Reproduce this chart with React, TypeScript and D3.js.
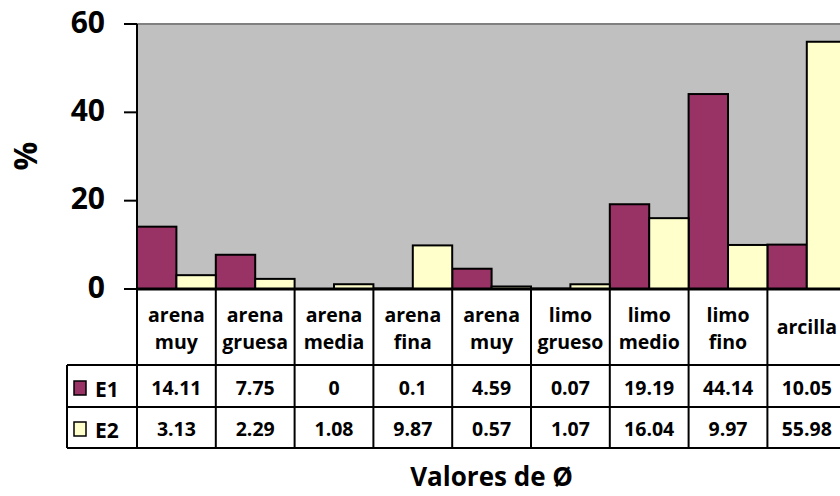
import React from "react";
import * as d3 from "d3";

const categories: string[][] = [
  ["arena", "muy"],
  ["arena", "gruesa"],
  ["arena", "media"],
  ["arena", "fina"],
  ["arena", "muy"],
  ["limo", "grueso"],
  ["limo", "medio"],
  ["limo", "fino"],
  ["arcilla"],
];
const e1Values = [14.11, 7.75, 0, 0.1, 4.59, 0.07, 19.19, 44.14, 10.05];
const e2Values = [3.13, 2.29, 1.08, 9.87, 0.57, 1.07, 16.04, 9.97, 55.98];
const seriesNames = ["E1", "E2"];
const seriesColors = ["#993366", "#FFFFCC"];
const yTicks = [0, 20, 40, 60];

const W = 840;
const H = 496;
const FONT = "'Open Sans', 'Noto Sans', sans-serif";

export default function App() {
  const left = 137;
  const top = 24;
  const bottom = 289;
  const catW = 78.8;
  const right = left + catW * categories.length;

  const x = d3
    .scaleBand<number>()
    .domain(categories.map((_, i) => i))
    .range([left, right])
    .paddingInner(0)
    .paddingOuter(0);
  const xs = d3.scaleBand<number>().domain([0, 1]).range([0, x.bandwidth()]);
  const y = d3.scaleLinear().domain([0, 60]).range([bottom, top]);

  const series = [e1Values, e2Values];
  const rowE1 = [365, 407];
  const rowE2 = [407, 448];
  const tableLeft = 67;

  return (
    <svg
      width={W}
      height={H}
      style={{ position: "absolute", left: 0, top: 0, background: "#fff" }}
      fontFamily={FONT}
      fontWeight={700}
    >
      {/* plot area */}
      <rect x={left} y={top} width={right - left} height={bottom - top} fill="#C0C0C0" />
      <line x1={left} x2={right} y1={top} y2={top} stroke="#808080" strokeWidth={2} />

      {/* bars */}
      {series.map((vals, s) =>
        vals.map((v, i) => (
          <rect
            key={`b${s}-${i}`}
            x={(x(i) as number) + (xs(s) as number)}
            y={y(v)}
            width={xs.bandwidth()}
            height={bottom - y(v)}
            fill={seriesColors[s]}
            stroke="#000"
            strokeWidth={2}
          />
        ))
      )}

      {/* y axis */}
      <line x1={left} x2={left} y1={top} y2={bottom} stroke="#000" strokeWidth={2} />
      {yTicks.map((t) => (
        <g key={`t${t}`}>
          <line x1={124} x2={left} y1={y(t)} y2={y(t)} stroke="#000" strokeWidth={2} />
          <text x={105} y={y(t) + 8.5} textAnchor="end" fontSize={30} fill="#000">
            {t}
          </text>
        </g>
      ))}
      <text
        transform={`translate(37,156) rotate(-90)`}
        textAnchor="middle"
        fontSize={32}
        fill="#000"
      >
        %
      </text>

      {/* data table */}
      <g stroke="#000" strokeWidth={2}>
        <line x1={left} x2={right} y1={bottom} y2={bottom} strokeWidth={3} />
        <line x1={tableLeft} x2={right} y1={rowE1[0]} y2={rowE1[0]} />
        <line x1={tableLeft} x2={right} y1={rowE2[0]} y2={rowE2[0]} />
        <line x1={tableLeft} x2={right} y1={rowE2[1]} y2={rowE2[1]} />
        <line x1={tableLeft} x2={tableLeft} y1={rowE1[0]} y2={rowE2[1]} />
        {categories.map((_, i) => (
          <line key={`v${i}`} x1={x(i)} x2={x(i)} y1={bottom} y2={rowE2[1]} />
        ))}
        <line x1={right} x2={right} y1={bottom} y2={rowE2[1]} />
      </g>

      {categories.map((lines, i) => {
        const cx = (x(i) as number) + x.bandwidth() / 2;
        const baselines = lines.length === 1 ? [334] : [322, 349];
        return (
          <text key={`c${i}`} x={cx} textAnchor="middle" fontSize={19.5} fill="#000">
            {lines.map((l, k) => (
              <tspan key={k} x={cx} y={baselines[k]}>
                {l}
              </tspan>
            ))}
          </text>
        );
      })}

      {series.map((vals, s) => {
        const row = s === 0 ? rowE1 : rowE2;
        const base = row[1] - 12;
        return (
          <g key={`r${s}`}>
            <rect
              x={74}
              y={base - 14}
              width={12}
              height={14}
              fill={seriesColors[s]}
              stroke="#000"
              strokeWidth={1.5}
            />
            <text x={95} y={base + 2} fontSize={21} fill="#000">
              {seriesNames[s]}
            </text>
            {vals.map((v, i) => (
              <text
                key={`v${i}`}
                x={(x(i) as number) + x.bandwidth() / 2}
                y={base}
                textAnchor="middle"
                fontSize={19.5}
                fill="#000"
              >
                {String(v)}
              </text>
            ))}
          </g>
        );
      })}

      <text
        x={(left + right) / 2}
        y={486}
        textAnchor="middle"
        fontSize={26}
        fill="#000"
      >
        Valores de Ø
      </text>
    </svg>
  );
}
